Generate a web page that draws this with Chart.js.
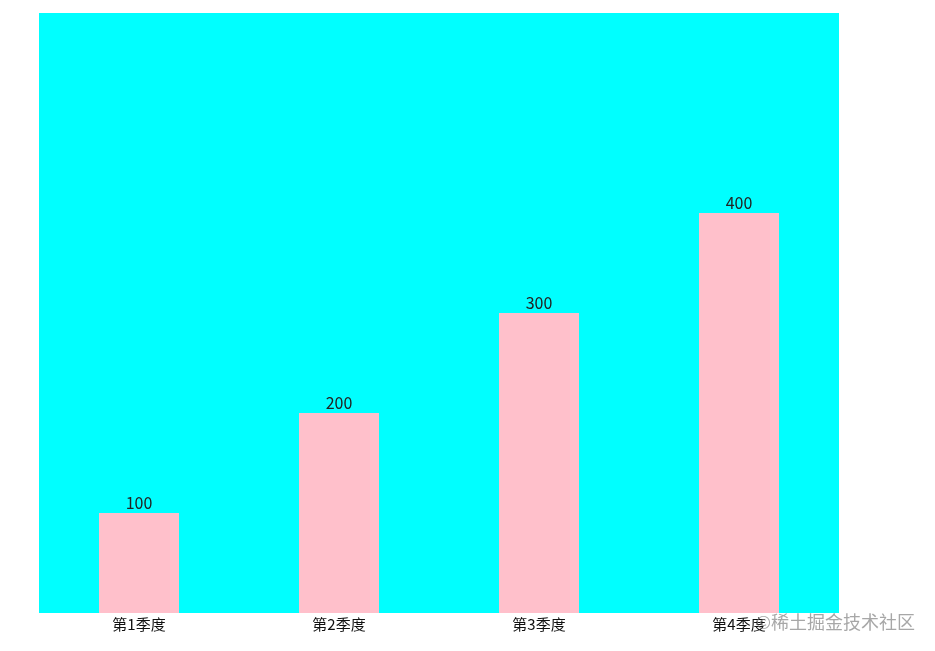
<!DOCTYPE html>
<html>
<head>
<meta charset="utf-8">
<script src="https://cdn.jsdelivr.net/npm/chart.js@4/dist/chart.umd.min.js"></script>
<style>
    html, body { margin: 0; padding: 0; background: #fff; }
    #wrap { position: relative; width: 935px; height: 651px; }
    #mark {
        position: absolute; left: 756px; top: 608px; line-height: 26px;
        font: 18px "Noto Sans CJK SC", sans-serif; color: rgba(130,130,130,0.7);
    }
</style>
</head>
<body>
<div id="wrap">
    <canvas id="c" width="935" height="651"></canvas>
    <div id="mark">©稀土掘金技术社区</div>
</div>
<script>
const categories = ['第1季度', '第2季度', '第3季度', '第4季度'];
const values = [100, 200, 300, 400];
const yMax = 600;

// Fill the plot area and write each bar's value above it.
const areaFill = {
    id: 'areaFill',
    beforeDraw(chart) {
        const { ctx, chartArea: a } = chart;
        ctx.save();
        ctx.fillStyle = '#00ffff';
        ctx.fillRect(a.left, a.top, a.right - a.left, a.bottom - a.top);
        ctx.restore();
    }
};

const valueLabels = {
    id: 'valueLabels',
    afterDatasetsDraw(chart) {
        const { ctx } = chart;
        const meta = chart.getDatasetMeta(0);
        ctx.save();
        ctx.font = '16px "Noto Sans CJK SC", sans-serif';
        ctx.fillStyle = '#222';
        ctx.textAlign = 'center';
        ctx.textBaseline = 'bottom';
        meta.data.forEach((bar, i) => {
            ctx.fillText(String(values[i]), bar.x, bar.y - 2);
        });
        ctx.restore();
    }
};

new Chart(document.getElementById('c'), {
    type: 'bar',
    data: {
        labels: categories,
        datasets: [{
            data: values,
            backgroundColor: '#ffc0cb',
            barPercentage: 0.4,
            categoryPercentage: 1
        }]
    },
    options: {
        responsive: false,
        animation: false,
        layout: { padding: { left: 39, right: 96, top: 13, bottom: 0 } },
        plugins: { legend: { display: false }, tooltip: { enabled: false } },
        scales: {
            x: {
                grid: { display: false, drawTicks: false },
                border: { display: false },
                ticks: {
                    color: '#111',
                    padding: 2,
                    font: { size: 15, family: '"Noto Sans CJK SC", sans-serif' }
                },
                afterFit(scale) { scale.height = 38; }
            },
            y: { display: false, min: 0, max: yMax }
        }
    },
    plugins: [areaFill, valueLabels]
});
</script>
</body>
</html>
